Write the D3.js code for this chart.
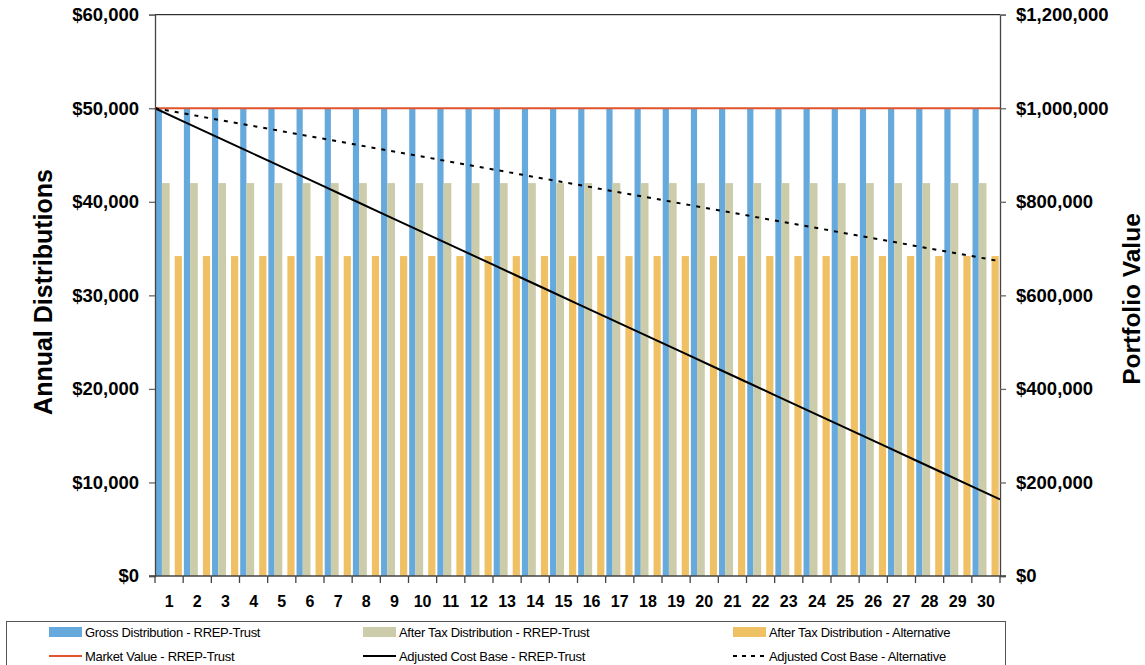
<!DOCTYPE html>
<html><head><meta charset="utf-8">
<script src="https://cdn.jsdelivr.net/npm/d3@7"></script>
<style>
body{margin:0;background:#fff;}
svg{display:block;font-family:"Liberation Sans",Arial,sans-serif;}
</style></head>
<body><svg id="c" width="1145" height="665"></svg>
<script>
const years = [1,2,3,4,5,6,7,8,9,10,11,12,13,14,15,16,17,18,19,20,21,22,23,24,25,26,27,28,29,30];
const grossRREP = [50000,50000,50000,50000,50000,50000,50000,50000,50000,50000,50000,50000,50000,50000,50000,50000,50000,50000,50000,50000,50000,50000,50000,50000,50000,50000,50000,50000,50000,50000];
const afterTaxRREP = [42000,42000,42000,42000,42000,42000,42000,42000,42000,42000,42000,42000,42000,42000,42000,42000,42000,42000,42000,42000,42000,42000,42000,42000,42000,42000,42000,42000,42000,42000];
const afterTaxAlt = [34200,34200,34200,34200,34200,34200,34200,34200,34200,34200,34200,34200,34200,34200,34200,34200,34200,34200,34200,34200,34200,34200,34200,34200,34200,34200,34200,34200,34200,34200];
const lineYears = [0,1,2,3,4,5,6,7,8,9,10,11,12,13,14,15,16,17,18,19,20,21,22,23,24,25,26,27,28,29,30];
const marketRREP = [1000000,1000000,1000000,1000000,1000000,1000000,1000000,1000000,1000000,1000000,1000000,1000000,1000000,1000000,1000000,1000000,1000000,1000000,1000000,1000000,1000000,1000000,1000000,1000000,1000000,1000000,1000000,1000000,1000000,1000000,1000000];
const acbRREP = [1000000,972130,944260,916390,888520,860650,832780,804910,777040,749170,721300,693430,665560,637690,609820,581950,554080,526210,498340,470470,442600,414730,386860,358990,331120,303250,275380,247510,219640,191770,163900];
const acbAlt = [1000000,989100,978200,967300,956400,945500,934600,923700,912800,901900,891000,880100,869200,858300,847400,836500,825600,814700,803800,792900,782000,771100,760200,749300,738400,727500,716600,705700,694800,683900,673000];
const leftTicks = [0,10000,20000,30000,40000,50000,60000];
const rightTicks = [0,200000,400000,600000,800000,1000000,1200000];
const legendLabels = ["Gross Distribution - RREP-Trust","After Tax Distribution - RREP-Trust","After Tax Distribution - Alternative","Market Value - RREP-Trust","Adjusted Cost Base - RREP-Trust","Adjusted Cost Base - Alternative"];

const colors = {blue:"#66A9DD", beige:"#CCCCAA", orange:"#F0C064", red:"#E0552E", black:"#000"};

const svg = d3.select("#c");
const L = 155, R = 1000, T = 14.7, B = 576;

const x = d3.scaleBand().domain(years).range([L, R]).paddingInner(0).paddingOuter(0);
const xl = d3.scaleLinear().domain([0,30]).range([L, R]);
const yL = d3.scaleLinear().domain([0,60000]).range([B, T]);
const yR = d3.scaleLinear().domain([0,1200000]).range([B, T]);
const bw = x.bandwidth();

const fmt = d => "$" + d3.format(",")(d);

// bars
const series = [
  {vals: grossRREP, c: colors.blue, a: 0.025, b: 0.245},
  {vals: afterTaxRREP, c: colors.beige, a: 0.245, b: 0.52},
  {vals: afterTaxAlt, c: colors.orange, a: 0.70, b: 0.955}
];
series.forEach(s => {
  svg.append("g").selectAll("rect").data(years).join("rect")
    .attr("x", (d) => x(d) + s.a*bw)
    .attr("width", (s.b - s.a)*bw)
    .attr("y", (d,i) => yL(s.vals[i]))
    .attr("height", (d,i) => B - yL(s.vals[i]))
    .attr("fill", s.c);
});

// plot border top
svg.append("line").attr("x1", L).attr("x2", R).attr("y1", T).attr("y2", T).attr("stroke", "#000").attr("stroke-width", 1);

// lines
const mk = vals => d3.line().x((d,i) => xl(lineYears[i])).y((d,i) => yR(vals[i]));
svg.append("path").datum(marketRREP).attr("d", mk(marketRREP)).attr("fill","none").attr("stroke", colors.red).attr("stroke-width", 2);
svg.append("path").datum(acbRREP).attr("d", mk(acbRREP)).attr("fill","none").attr("stroke", "#000").attr("stroke-width", 2);
svg.append("path").datum(acbAlt).attr("d", mk(acbAlt)).attr("fill","none").attr("stroke", "#000").attr("stroke-width", 2).attr("stroke-dasharray","4,6");

// axes
const axL = svg.append("g").attr("transform", `translate(${L},0)`)
  .call(d3.axisLeft(yL).tickValues(leftTicks).tickFormat(fmt).tickSize(6).tickPadding(10));
const axR = svg.append("g").attr("transform", `translate(${R},0)`)
  .call(d3.axisRight(yR).tickValues(rightTicks).tickFormat(fmt).tickSize(6).tickPadding(10));
[axL, axR].forEach(a => {
  a.select(".domain").attr("stroke", "#444").attr("stroke-width", 1.3);
  a.selectAll(".tick line").attr("stroke", "#666").attr("stroke-width", 1.3);
  a.selectAll("text").attr("font-size", "18.5px").attr("font-weight", "bold").attr("fill", "#000")
    .attr("font-family", '"Liberation Sans",Arial,sans-serif');
});

// x axis
const axX = svg.append("g").attr("transform", `translate(0,${B})`);
axX.append("line").attr("x1", L-6).attr("x2", R+6).attr("y1", 0).attr("y2", 0).attr("stroke", "#444").attr("stroke-width", 1.3);
axX.selectAll("line.tk").data(lineYears).join("line").attr("class","tk")
  .attr("x1", d => xl(d)).attr("x2", d => xl(d)).attr("y1", 0).attr("y2", 7).attr("stroke", "#444").attr("stroke-width", 1.3);
axX.selectAll("text").data(years).join("text")
  .attr("x", d => x(d) + bw/2).attr("y", 31)
  .attr("text-anchor", "middle").attr("font-size", "16px").attr("font-weight", "bold").text(d => d);

// axis titles
svg.append("text").attr("transform", "translate(52,292) rotate(-90)").attr("text-anchor","middle")
  .attr("font-size","25px").attr("font-weight","bold").text("Annual Distributions");
svg.append("text").attr("transform", "translate(1140,299) rotate(-90)").attr("text-anchor","middle")
  .attr("font-size","24.5px").attr("font-weight","bold").text("Portfolio Value");

// legend
svg.append("rect").attr("x", 6.5).attr("y", 621.5).attr("width", 999).attr("height", 50)
  .attr("fill","#fff").attr("stroke","#555").attr("stroke-width",1);
const colX = [49, 363, 733];
const rowY = [632, 656];
const items = [
  {t:"rect", c:colors.blue}, {t:"rect", c:colors.beige}, {t:"rect", c:colors.orange},
  {t:"line", c:colors.red}, {t:"line", c:"#000"}, {t:"dash", c:"#000"}
];
items.forEach((it, i) => {
  const cx = colX[i % 3], cy = rowY[Math.floor(i/3)];
  if (it.t === "rect") {
    svg.append("rect").attr("x", cx).attr("y", cy-5).attr("width", 33).attr("height", 10).attr("fill", it.c);
  } else {
    const ln = svg.append("line").attr("x1", cx).attr("x2", cx+33).attr("y1", cy).attr("y2", cy)
      .attr("stroke", it.c).attr("stroke-width", 2);
    if (it.t === "dash") ln.attr("stroke-dasharray","4,5");
  }
  svg.append("text").attr("x", cx+36).attr("y", cy+5).attr("font-size","13px").attr("letter-spacing","-0.3px")
    .text(legendLabels[i]);
});
</script>
</body></html>
